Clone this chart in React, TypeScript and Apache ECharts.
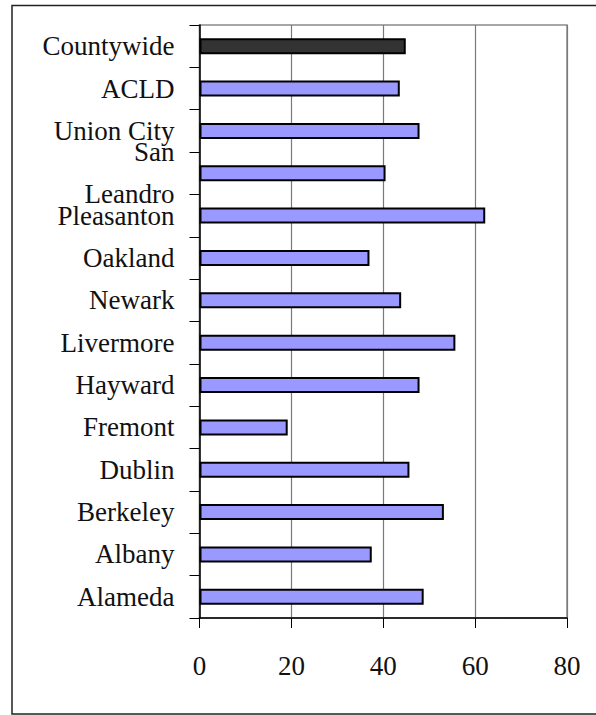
import React, { useEffect, useRef } from "react";
import * as echarts from "echarts";

const categories = [
  "Alameda",
  "Albany",
  "Berkeley",
  "Dublin",
  "Fremont",
  "Hayward",
  "Livermore",
  "Newark",
  "Oakland",
  "Pleasanton",
  "San Leandro",
  "Union City",
  "ACLD",
  "Countywide",
];
const values = [48.8, 37.5, 53.2, 45.7, 19.2, 47.9, 55.7, 43.9, 37.0, 62.2, 40.5, 47.9, 43.6, 44.9];
const xTicks = [0, 20, 40, 60, 80];

export default function App() {
  const ref = useRef<HTMLDivElement>(null);
  useEffect(() => {
    if (!ref.current) return;
    const chart = echarts.init(ref.current, null, { renderer: "svg" });
    const font = "Liberation Serif";
    chart.setOption({
      animation: false,
      backgroundColor: "#ffffff",
      grid: {
        left: 199.5,
        right: 29,
        top: 25,
        bottom: 97,
        show: true,
        borderColor: "#8a8a8a",
        borderWidth: 1.5,
        containLabel: false,
      },
      xAxis: {
        type: "value",
        min: xTicks[0],
        max: xTicks[xTicks.length - 1],
        interval: 20,
        axisLine: { show: true, onZero: false, lineStyle: { color: "#000", width: 1.5 } },
        axisTick: { show: true, inside: false, length: 10, lineStyle: { color: "#000", width: 1 } },
        splitLine: { show: true, lineStyle: { color: "#7a7a7a", width: 1.2 } },
        axisLabel: {
          margin: 34,
          fontFamily: font,
          fontSize: 27,
          color: "#111",
        },
      },
      yAxis: {
        type: "category",
        data: categories,
        boundaryGap: true,
        axisLine: { show: true, lineStyle: { color: "#000", width: 1.5 } },
        axisTick: { show: true, inside: false, length: 10, interval: 0, lineStyle: { color: "#000", width: 1 } },
        splitLine: { show: false },
        axisLabel: {
          interval: 0,
          margin: 25,
          fontFamily: font,
          fontSize: 27,
          lineHeight: 42,
          color: "#111",
          formatter: (v: string) => (v === "San Leandro" ? "San\nLeandro" : v),
        },
      },
      series: [
        {
          type: "bar",
          data: values.map((v, i) => ({
            value: v,
            itemStyle: {
              color: categories[i] === "Countywide" ? "#333333" : "#9999ff",
            },
          })),
          barWidth: 16,
          itemStyle: { borderColor: "#000", borderWidth: 2 },
        },
      ],
      graphic: [
        {
          type: "rect",
          shape: { x: 12, y: 5.5, width: 700, height: 708.5 },
          style: { fill: "none", stroke: "#222", lineWidth: 1.5 },
          silent: true,
        },
      ],
    });
    return () => chart.dispose();
  }, []);
  return (
    <div
      ref={ref}
      style={{ position: "absolute", left: 0, top: 0, width: 596, height: 715 }}
    />
  );
}
